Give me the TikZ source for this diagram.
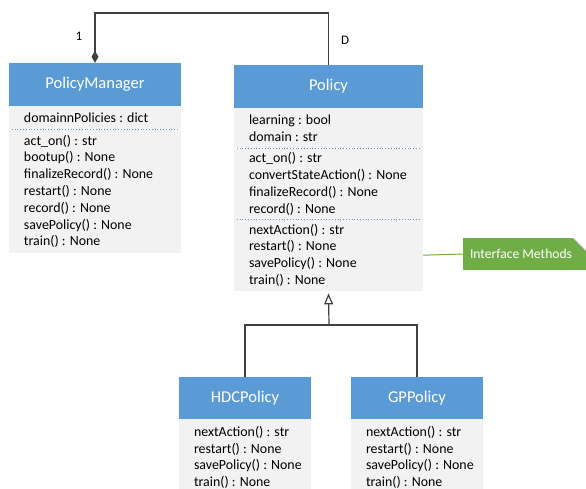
\documentclass[tikz,border=0pt]{standalone}
\usepackage{fontspec}
\setmainfont{Carlito}
\usetikzlibrary{positioning,arrows.meta}
\definecolor{headblue}{HTML}{5B9BD5}
\definecolor{bodygray}{HTML}{F2F2F2}
\definecolor{notegreen}{HTML}{70AD47}
\begin{document}
\begin{tikzpicture}[x=1pt,y=-1pt,
  head/.style={fill=headblue, text=white, minimum height=43pt, inner sep=0pt,
    font=\fontsize{16.5}{19}\selectfont},
  comp/.style={fill=bodygray, align=flush left, inner xsep=0pt, inner ysep=0pt,
    text width=#1, font=\fontsize{13.9}{16.8}\selectfont,
    execute at begin node={\leftskip=15pt\spaceskip=0pt}},
  sep/.style={draw=headblue, dotted, line width=0.8pt},
  link/.style={draw=black!75, line width=1.2pt}]
\useasboundingbox (0,0) rectangle (586,488);

% PolicyManager
\node[head, minimum width=172pt] (pmhead) at (95,84.5) {PolicyManager};
\node[comp=172pt, minimum height=23pt, below=0pt of pmhead] (pmattr) {domainnPolicies : dict};
\node[comp=172pt, minimum height=123pt, below=0pt of pmattr] (pmmeth) {act\_on() : str\\bootup() : None\\finalizeRecord() : None\\restart() : None\\record() : None\\savePolicy() : None\\train() : None};
\path[sep] ([xshift=3pt]pmattr.south west) -- ([xshift=-3pt]pmattr.south east);

% Policy
\node[head, minimum width=189pt] (polhead) at (328.5,86.5) {Policy};
\node[comp=189pt, minimum height=40pt, below=0pt of polhead] (polattr) {learning : bool\\domain : str};
\node[comp=189pt, minimum height=70pt, below=0pt of polattr] (polm1) {act\_on() : str\\convertStateAction() : None\\finalizeRecord() : None\\record() : None};
\node[comp=189pt, minimum height=72pt, below=0pt of polm1] (polm2) {nextAction() : str\\restart() : None\\savePolicy() : None\\train() : None};
\path[sep] ([xshift=3pt]polattr.south west) -- ([xshift=-3pt]polattr.south east);
\path[sep] ([xshift=3pt]polm1.south west) -- ([xshift=-3pt]polm1.south east);

% subclasses
\node[head, minimum width=132pt, minimum height=42pt] (hdchead) at (245,398) {HDCPolicy};
\node[comp=132pt, minimum height=76pt, below=0pt of hdchead] (hdcmeth) {nextAction() : str\\restart() : None\\savePolicy() : None\\train() : None};
\node[head, minimum width=132pt, minimum height=42pt] (gphead) at (417,398) {GPPolicy};
\node[comp=132pt, minimum height=76pt, below=0pt of gphead] (gpmeth) {nextAction() : str\\restart() : None\\savePolicy() : None\\train() : None};

% note
\node[fill=notegreen, text=white, minimum width=123pt, minimum height=32pt, inner xsep=7pt,
  font=\fontsize{13.6}{16}\selectfont, text width=109pt, align=flush left] (note) at (524.5,254) {Interface Methods};
\fill[white] ([xshift=-13pt]note.north east) -- (note.north east) -- ([yshift=-13pt]note.north east) -- cycle;
\draw[black!20, line width=0.6pt] ([xshift=-13pt]note.north east) -- ([yshift=-13pt]note.north east);
\path[draw=notegreen, line width=1pt] (polm2.east) -- (note.west);

% connectors
\coordinate (top) at (95,13);
\coordinate (split) at (329,325);
\path[link, {Diamond[length=12pt,width=7pt]}-] (pmhead.north) -- (top) -| (polhead.north);
\path[link] (hdchead.north) |- (split);
\path[link] (gphead.north) |- (split);
\path[link, -{Triangle[open,length=11pt,width=9pt,line width=1.2pt]}] (split) -- ([yshift=-2pt]polm2.south);
\node[font=\fontsize{13}{16}\selectfont] (one) at (79,36) {1};
\node[font=\fontsize{13}{16}\selectfont] (dee) at (345,40) {D};
\end{tikzpicture}
\end{document}
